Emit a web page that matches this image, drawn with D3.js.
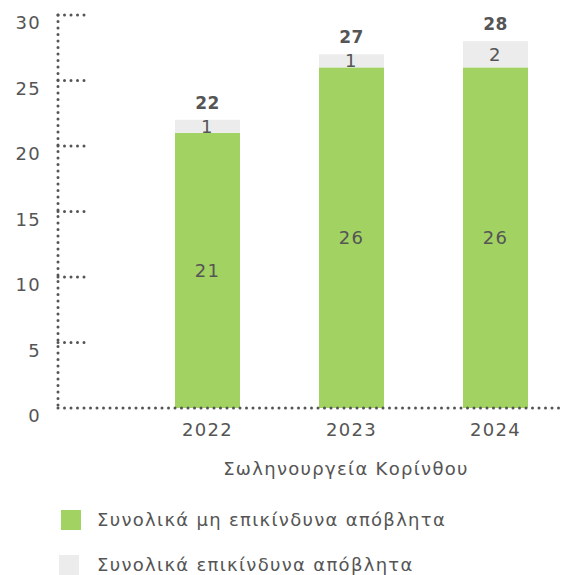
<!DOCTYPE html>
<meta charset="utf-8">
<style>
body { margin: 0; background: #fff; }
text { font-family: "DejaVu Sans", sans-serif; fill: #555; font-size: 18px; letter-spacing: 1.3px; }
.dots { fill: none; stroke: #555; stroke-width: 3; stroke-linecap: round; stroke-dasharray: 0 6.5; }
</style>
<body>
<script src="https://d3js.org/d3.v7.min.js"></script>
<script>
// values
var years = ["2022", "2023", "2024"];
var nonHazardous = [21, 26, 26];
var hazardous = [1, 1, 2];
var totals = [22, 27, 28];
var yTicks = [0, 5, 10, 15, 20, 25, 30];
var seriesNames = ["Συνολικά μη επικίνδυνα απόβλητα", "Συνολικά επικίνδυνα απόβλητα"];
var xTitle = "Σωληνουργεία Κορίνθου";

var green = "#a1d262", grey = "#ececec";

var svg = d3.select("body").append("svg")
    .attr("width", 562)
    .attr("height", 575);

var x = d3.scaleBand()
    .domain(years)
    .range([135.5, 567.5])
    .paddingInner(0.5486)
    .paddingOuter(0.2743);

var y = d3.scaleLinear()
    .domain([0, 30])
    .range([408, 15]);

var axisX = 58;

// bars
var rows = years.map(function(yr, i) {
  return {year: yr, a: nonHazardous[i], b: hazardous[i], total: totals[i]};
});

var g = svg.selectAll(".bar").data(rows).enter().append("g").attr("class", "bar");

g.append("rect")
    .attr("x", function(d) { return x(d.year); })
    .attr("width", x.bandwidth())
    .attr("y", function(d) { return y(d.a); })
    .attr("height", function(d) { return y(0) - y(d.a); })
    .attr("fill", green);

g.append("rect")
    .attr("x", function(d) { return x(d.year); })
    .attr("width", x.bandwidth())
    .attr("y", function(d) { return y(d.a + d.b); })
    .attr("height", function(d) { return y(d.a) - y(d.a + d.b); })
    .attr("fill", grey);

// axis lines (dotted)
svg.append("line").attr("class", "dots")
    .attr("x1", axisX).attr("x2", axisX)
    .attr("y1", y(30)).attr("y2", y(0));

svg.selectAll(".tickline").data(yTicks.slice(1)).enter().append("line")
    .attr("class", "dots")
    .attr("x1", axisX).attr("x2", axisX + 28)
    .attr("y1", function(d) { return y(d); })
    .attr("y2", function(d) { return y(d); });

svg.append("line").attr("class", "dots")
    .attr("x1", axisX).attr("x2", 562)
    .attr("y1", y(0)).attr("y2", y(0));

// y tick labels
svg.selectAll(".ylab").data(yTicks).enter().append("text")
    .attr("x", 41)
    .attr("y", function(d) { return y(d) + 8; })
    .attr("dy", "0.35em")
    .attr("text-anchor", "end")
    .text(function(d) { return d; });

// year labels
svg.selectAll(".xlab").data(years).enter().append("text")
    .attr("x", function(d) { return x(d) + x.bandwidth() / 2; })
    .attr("y", 430)
    .attr("dy", "0.35em")
    .attr("text-anchor", "middle")
    .text(function(d) { return d; });

svg.append("text")
    .attr("x", 346)
    .attr("y", 469)
    .attr("dy", "0.35em")
    .attr("text-anchor", "middle")
    .text(xTitle);

// value labels
g.append("text")
    .attr("x", function(d) { return x(d.year) + x.bandwidth() / 2; })
    .attr("y", function(d) { return y(d.a / 2); })
    .attr("dy", "0.35em")
    .attr("text-anchor", "middle")
    .text(function(d) { return d.a; });

g.append("text")
    .attr("x", function(d) { return x(d.year) + x.bandwidth() / 2; })
    .attr("y", function(d) { return y(d.a + d.b / 2); })
    .attr("dy", "0.35em")
    .attr("text-anchor", "middle")
    .text(function(d) { return d.b; });

g.append("text")
    .attr("x", function(d) { return x(d.year) + x.bandwidth() / 2; })
    .attr("y", function(d) { return y(d.a + d.b) - 17; })
    .attr("dy", "0.35em")
    .attr("text-anchor", "middle")
    .style("font-size", "17px")
    .style("font-weight", "bold")
    .style("letter-spacing", "0.5px")
    .text(function(d) { return d.total; });

// legend
var legend = svg.selectAll(".legend").data(seriesNames).enter().append("g")
    .attr("transform", function(d, i) { return "translate(0," + (520 + i * 45) + ")"; });

legend.append("rect")
    .attr("x", function(d, i) { return i === 0 ? 61 : 59; })
    .attr("y", -10)
    .attr("width", 20)
    .attr("height", 20)
    .attr("fill", function(d, i) { return i === 0 ? green : grey; });

legend.append("text")
    .attr("x", 97)
    .attr("y", 0)
    .attr("dy", "0.35em")
    .text(function(d) { return d; });
</script>
